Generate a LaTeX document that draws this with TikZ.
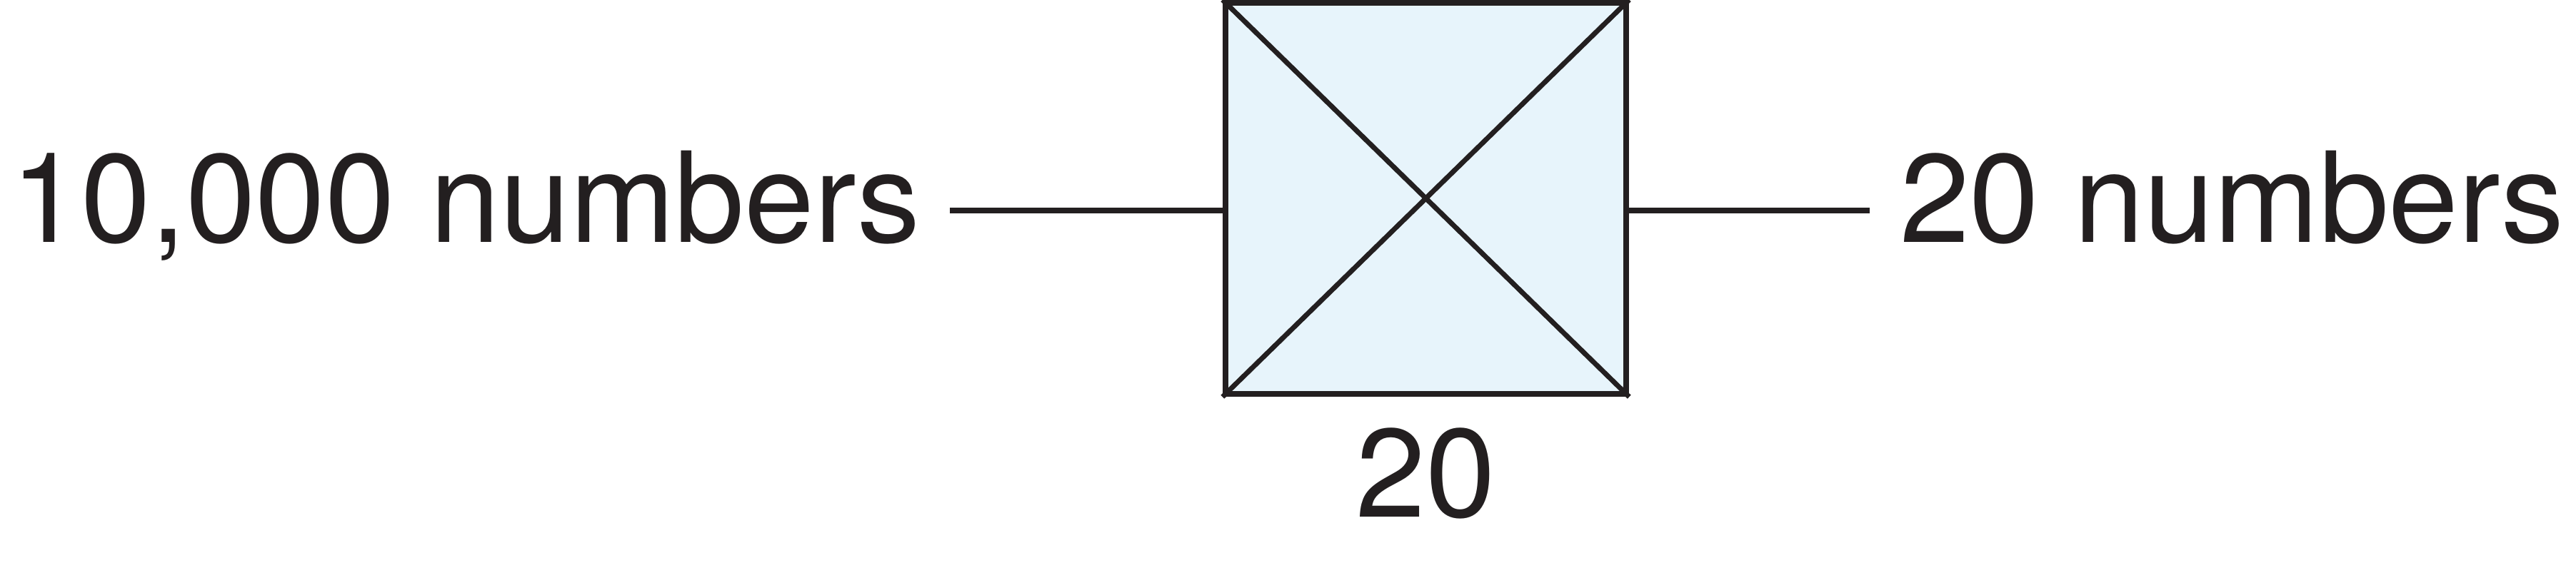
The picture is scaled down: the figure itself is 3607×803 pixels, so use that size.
\documentclass[tikz,border=0pt]{standalone}
\usepackage{fontspec}
\setmainfont{TeX Gyre Heros}
\definecolor{ink}{HTML}{231F20}
\definecolor{boxfill}{HTML}{E7F4FB}
\begin{document}
\begin{tikzpicture}[x=0.1pt,y=-0.1pt,
  lbl/.style={inner sep=0pt,text=ink,font=\fontsize{17.6}{20}\selectfont},
  layerbox/.style={draw=ink,fill=boxfill,line width=0.85pt,rectangle,minimum width=56.1pt,minimum height=54.8pt,inner sep=0pt},
  diag/.style={draw=ink,line width=0.7pt},
  conn/.style={draw=ink,line width=0.75pt}]
\useasboundingbox (0,0) rectangle (3607,803);
\node[layerbox] (box) at (1996.5,278) {};
\draw[diag] (box.north west) -- (box.south east);
\draw[diag] (box.south west) -- (box.north east);
\node[lbl,anchor=base east] (lt) at (1290,340) {10,000 numbers};
\node[lbl,anchor=base west] (rt) at (2658,340) {20 numbers};
\node[lbl,anchor=base] (bt) at (box.center |- 0,725) {20};
\coordinate (l1) at (1330,295);
\coordinate (r1) at (2618,295);
\draw[conn] (l1) -- (box.west |- l1);
\draw[conn] (box.east |- r1) -- (r1);
\end{tikzpicture}
\end{document}
